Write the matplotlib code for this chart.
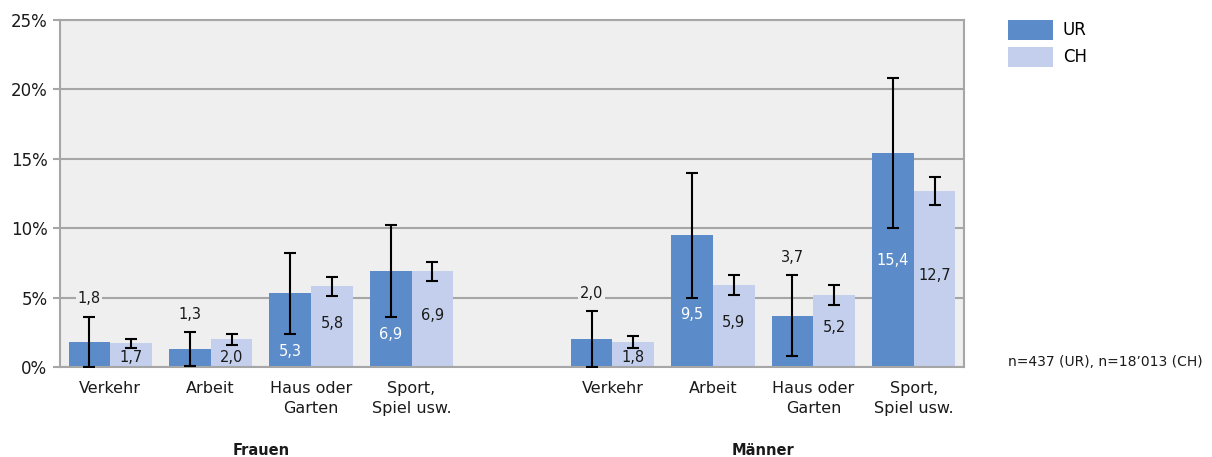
import matplotlib
matplotlib.use("Agg")
import matplotlib.pyplot as plt
from matplotlib.patches import Patch
import numpy as np

plt.rcParams['font.family'] = ['DejaVu Sans']

categories = ["Verkehr", "Arbeit", "Haus oder\nGarten", "Sport,\nSpiel usw."]
groups = ["Frauen", "Männer"]
series = ["UR", "CH"]

ur_frauen = [1.8, 1.3, 5.3, 6.9]
ch_frauen = [1.7, 2.0, 5.8, 6.9]
ur_maenner = [2.0, 9.5, 3.7, 15.4]
ch_maenner = [1.8, 5.9, 5.2, 12.7]

# confidence intervals (lower, upper)
ur_frauen_lo = [0.0, 0.1, 2.4, 3.6]
ur_frauen_hi = [3.6, 2.5, 8.2, 10.2]
ch_frauen_lo = [1.4, 1.6, 5.1, 6.2]
ch_frauen_hi = [2.0, 2.4, 6.5, 7.6]
ur_maenner_lo = [0.0, 5.0, 0.8, 10.0]
ur_maenner_hi = [4.0, 14.0, 6.6, 20.8]
ch_maenner_lo = [1.4, 5.2, 4.5, 11.7]
ch_maenner_hi = [2.2, 6.6, 5.9, 13.7]

note = "n=437 (UR), n=18\u2019013 (CH)"

c_ur = "#5b8bc9"
c_ch = "#c3cfec"
bg = "#efefef"
grid_c = "#a6a6a6"
txt_c = "#1a1a1a"

fig = plt.figure(figsize=(12.12, 4.57), dpi=100)
ax = fig.add_axes([60/1212, 1-367/457, (964-60)/1212, (367-20)/457])
ax.set_facecolor(bg)

w = 0.415
slots = [np.arange(4), np.arange(5, 9)]
ur_vals = [ur_frauen, ur_maenner]
ch_vals = [ch_frauen, ch_maenner]
ur_lo = [ur_frauen_lo, ur_maenner_lo]
ur_hi = [ur_frauen_hi, ur_maenner_hi]
ch_lo = [ch_frauen_lo, ch_maenner_lo]
ch_hi = [ch_frauen_hi, ch_maenner_hi]

ax.set_axisbelow(True)
ax.yaxis.grid(True, color=grid_c, linewidth=1.5)

def fmt(v):
    return f"{v:.1f}".replace(".", ",")

for g in range(2):
    x = slots[g]
    u = np.array(ur_vals[g]); c = np.array(ch_vals[g])
    ul = np.array(ur_lo[g]); uh = np.array(ur_hi[g])
    cl = np.array(ch_lo[g]); chh = np.array(ch_hi[g])
    ax.bar(x - w/2, u, w, color=c_ur, zorder=2)
    ax.bar(x + w/2, c, w, color=c_ch, zorder=2)
    ax.errorbar(x - w/2, u, yerr=[u - ul, uh - u], fmt='none', ecolor='black',
                elinewidth=1.5, capsize=4, capthick=1.5, zorder=3)
    ax.errorbar(x + w/2, c, yerr=[c - cl, chh - c], fmt='none', ecolor='black',
                elinewidth=1.5, capsize=4, capthick=1.5, zorder=3)
    for i in range(4):
        if u[i] < 4.5:
            ax.text(x[i] - w/2, uh[i] + 1.3, fmt(u[i]), ha='center', va='center',
                    fontsize=10.5, color=txt_c, zorder=4,
                    bbox=dict(facecolor=bg, edgecolor='none', pad=1.0))
        else:
            yy = min(u[i]/2, ul[i] - 1.25)
            ax.text(x[i] - w/2, yy, fmt(u[i]), ha='center', va='center',
                    fontsize=10.5, color='white', zorder=4)
        yc = c[i]/2 + 0.25 if c[i] > 3 else 0.65
        ax.text(x[i] + w/2, yc, fmt(c[i]), ha='center', va='center',
                fontsize=10.5, color=txt_c, zorder=4)

ax.set_xlim(-0.5, 8.5)
ax.set_ylim(0, 25)
ax.set_yticks(range(0, 26, 5))
ax.set_yticklabels([f"{t}%" for t in range(0, 26, 5)], fontsize=12, color=txt_c)
xt = np.concatenate(slots)
ax.set_xticks(xt)
ax.set_xticklabels(categories * 2, fontsize=11.5, linespacing=1.45, color=txt_c)
ax.tick_params(axis='x', length=0, pad=10)
ax.tick_params(axis='y', length=5, width=1.5, color=grid_c, pad=4)
for s in ax.spines.values():
    s.set_color(grid_c)
    s.set_linewidth(1.5)

for g in range(2):
    ax.text(np.mean(slots[g]), -0.24, groups[g], transform=ax.get_xaxis_transform(),
            ha='center', va='center', fontsize=10.5, fontweight='bold', color=txt_c)

handles = [Patch(facecolor=c_ur, label=series[0]), Patch(facecolor=c_ch, label=series[1])]
fig.legend(handles=handles, loc='upper left', bbox_to_anchor=(1003/1212, 1-15/457),
           frameon=False, fontsize=12, handlelength=2.7, handleheight=1.46,
           labelspacing=0.42, handletextpad=0.6, borderpad=0.3, borderaxespad=0)

fig.text(1008/1212, 1-362/457, note, ha='left', va='center', fontsize=10, color=txt_c)

fig.savefig("out.png", dpi=100)
